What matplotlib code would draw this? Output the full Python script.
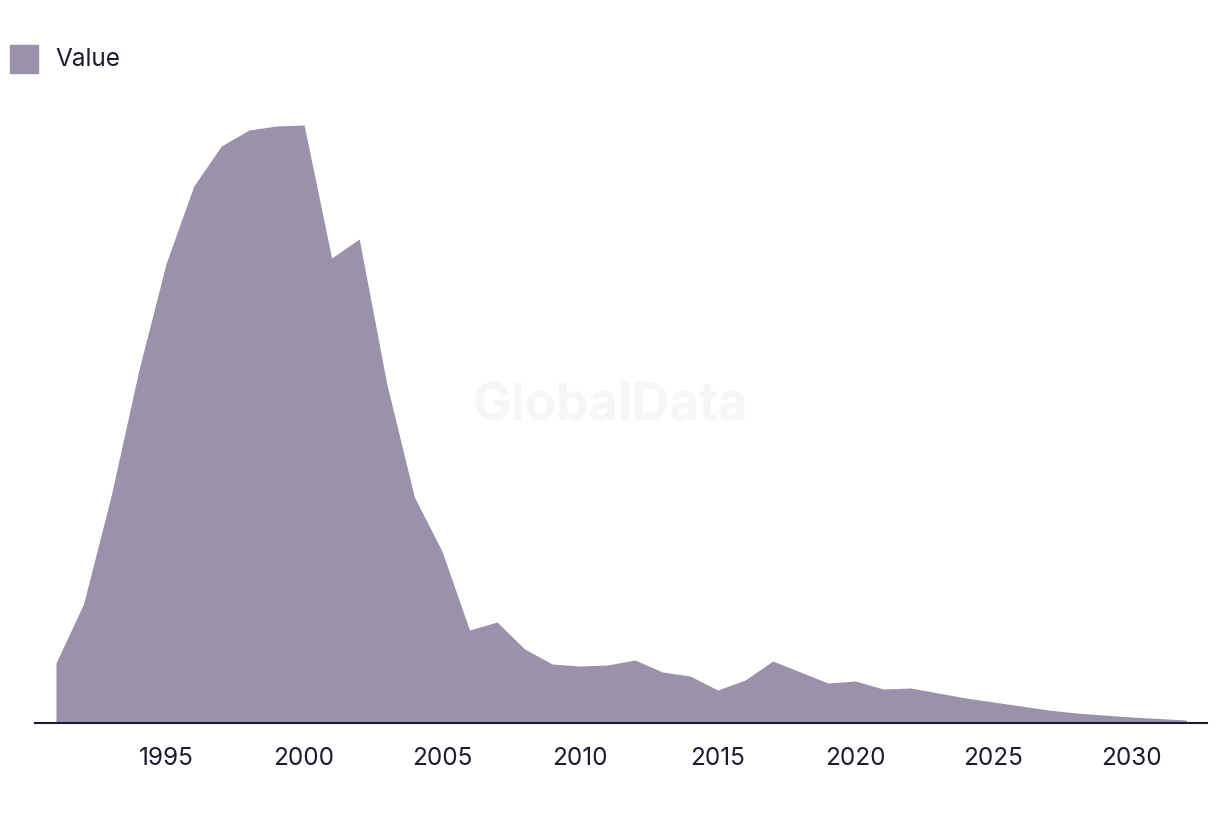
import matplotlib.pyplot as plt
import numpy as np

years = np.arange(1991, 2033)
values = [60, 119, 227, 352, 460, 537, 577, 593, 597, 598,
          465, 484, 339, 226, 172, 93, 101, 74, 59, 57,
          58, 63, 51, 47, 33, 43, 62, 51, 40, 42,
          34, 35, 30, 25, 21, 17, 13, 10, 8, 6,
          4.5, 3]
tick_years = [1995, 2000, 2005, 2010, 2015, 2020, 2025, 2030]

fill_col = '#9a91aa'
ink = '#1b1a2e'

plt.rcParams['font.family'] = ['Inter', 'DejaVu Sans']

fig = plt.figure(figsize=(12.2, 8.14), dpi=100)
ax = fig.add_axes([35 / 1220, 91 / 814, 1172 / 1220, 622 / 814])
ax.fill_between(years, values, 0, color=fill_col, linewidth=0)
ax.set_xlim(1990.24, 2032.75)
ax.set_ylim(0, 622)

for s in ['top', 'right', 'left']:
    ax.spines[s].set_visible(False)
ax.spines['bottom'].set_color(ink)
ax.spines['bottom'].set_linewidth(1.5)
ax.set_yticks([])
ax.set_xticks(tick_years)
ax.set_xticklabels([str(y) for y in tick_years], fontsize=17.5, color=ink)
ax.tick_params(axis='x', length=0, pad=17)

# watermark
fig.text(610 / 1220, 1 - 407 / 814, 'GlobalData', fontsize=37, fontweight='bold',
         color='#f6f6f6', ha='center', va='center', zorder=0)

# legend
fig.patches.append(plt.Rectangle((10 / 1220, 1 - 73 / 814), 28 / 1220, 28 / 814,
                                 transform=fig.transFigure, color=fill_col))
fig.text(55 / 1220, 1 - 59 / 814, 'Value', fontsize=17.5, color=ink, va='center')

fig.savefig('out.png', dpi=100)
